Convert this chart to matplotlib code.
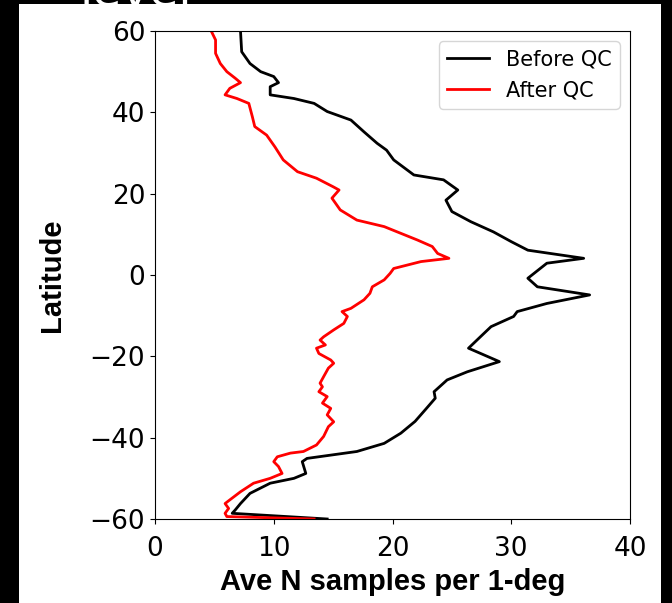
import matplotlib
matplotlib.use("Agg")
import matplotlib.pyplot as plt
from matplotlib.patches import Rectangle

# ── data (Ave N samples per 1-deg vs latitude) ──
lat_before = [60, 54.9, 52, 50, 48.8, 47.3, 46.3, 44.3, 43.4, 42.2, 40.2, 38.1,
              35.2, 32.4, 30.7, 28.3, 24.6, 23.4, 20.9, 18.4, 15.6, 13.1, 10.6,
              8.2, 6.1, 4.1, 2.9, -0.8, -2.9, -4.9, -7.0, -9.0, -10.2, -12.7,
              -15.2, -18.0, -21.3, -23.8, -25.8, -28.7, -30.3, -33, -36, -38.9,
              -41.4, -43.4, -45.1, -45.9, -48.8, -50.0, -51.2, -53.7, -56.2,
              -57.8, -58.6, -60]
n_before = [7.2, 7.3, 8.0, 8.9, 10.0, 10.4, 9.7, 9.7, 11.7, 13.4, 14.5, 16.5,
            17.6, 18.7, 19.5, 20.1, 21.8, 24.3, 25.5, 24.5, 25.0, 26.6, 28.5,
            30.0, 31.4, 36.1, 33.0, 31.4, 32.2, 36.6, 33.0, 30.5, 30.2, 28.3,
            27.4, 26.4, 29.0, 26.3, 24.6, 23.5, 23.6, 22.8, 21.9, 20.7,
            19.3, 17.0, 12.8, 12.4, 12.7, 11.7, 9.7, 8.0, 7.2,
            6.75, 6.5, 14.5]

lat_after = [59.6, 57.8, 54.5, 52, 50, 48.4, 47.3, 45.9, 44.3, 43.4, 42.2, 38.9,
             36.5, 34.4, 31.5, 28.3, 25.4, 23.8, 21.7, 20.9, 18.9, 16.0, 13.5,
             11.9, 10.6, 8.6, 7.0, 5.3, 4.1, 3.3, 1.6, 0.4, -1.2, -2.9, -4.5,
             -6.1, -8.2, -9.0, -10.2, -11.9, -13.5, -15.2, -16.0, -17.2, -18.0,
             -19.3, -20.9, -21.7, -22.9, -25.0, -26.6, -27.5, -28.7, -29.9,
             -31.5, -32.8, -34.4, -36.1, -37.3, -39.7, -41.8, -43.4, -43.8,
             -44.7, -45.9, -47.1, -48.8, -50.0, -51.2, -53.3, -55.3, -56.2,
             -57.4, -58.6, -59.4, -60]
n_after = [4.8, 5.1, 5.1, 5.5, 6.05, 6.75, 7.2, 6.3, 5.9, 6.9, 7.9, 8.2,
           8.4, 9.4, 10.1, 10.8, 12.0, 13.6, 15.0, 15.5, 14.9, 15.6, 17.0,
           19.3, 20.4, 22.1, 23.35, 23.8, 24.75, 22.4, 20.1, 19.8, 19.3, 18.3,
           18.1, 17.6, 16.5, 15.75, 16.2, 15.9, 15.05, 14.2, 13.9, 14.35, 13.6,
           13.8, 14.8, 15.05, 14.6, 14.2, 13.9, 14.1, 13.8, 14.5,
           14.1, 14.8, 14.5, 15.05, 14.6, 14.2, 13.6, 12.5, 11.4,
           10.3, 10.0, 10.4, 10.7, 9.7, 8.3, 7.2, 6.3, 5.9,
           6.2, 5.9, 6.05, 13.4]

x_ticks = [0, 10, 20, 30, 40]
y_ticks = [-60, -40, -20, 0, 20, 40, 60]

# ── figure: black surround with a white panel ──
fig = plt.figure(figsize=(6.72, 6.03), dpi=100, facecolor="black")
fig.add_artist(Rectangle((19 / 672, 0), (661 - 19) / 672, (603 - 4) / 603,
                         transform=fig.transFigure, facecolor="white",
                         edgecolor="none", zorder=0))
# title of the cell above, mostly cut off
fig.text(80 / 672, 1 - 5 / 603, "level", color="white", fontsize=34,
         ha="left", va="baseline", zorder=-1)

ax = fig.add_axes([155 / 672, 1 - 519 / 603, (630 - 155) / 672, (519 - 31) / 603])
ax.set_facecolor("white")

ax.plot(n_before, lat_before, color="black", lw=2, label="Before QC")
ax.plot(n_after, lat_after, color="red", lw=2, label="After QC")

ax.set_xlim(0, 40)
ax.set_ylim(-60, 60)
ax.set_xticks(x_ticks)
ax.set_yticks(y_ticks)
ax.tick_params(labelsize=19)
ax.tick_params(axis="x", pad=9)

ax.set_xlabel("Ave N samples per 1-deg", fontsize=21, fontweight="bold",
              family="Liberation Sans")
ax.set_ylabel("Latitude", fontsize=21, fontweight="bold",
              family="Liberation Sans", labelpad=17)

ax.legend(loc="upper right", fontsize=15)

fig.savefig("out.png", dpi=100, facecolor="black")
